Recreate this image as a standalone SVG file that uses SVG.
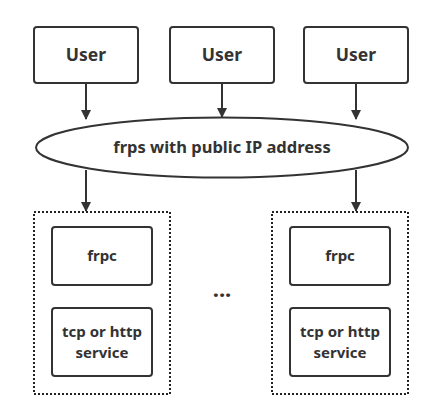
<svg xmlns="http://www.w3.org/2000/svg" width="443" height="415" viewBox="0 0 443 415">
<defs>
<style>
.box{fill:#fff;stroke:#333;stroke-width:2}
.dot{fill:none;stroke:#222;stroke-width:2;stroke-dasharray:2 2}
.t{font-family:"Noto Sans","Open Sans",sans-serif;font-weight:bold;font-size:17.5px;fill:#333;text-anchor:middle}
.s{font-size:15px}
.m{font-size:16.5px}
.c{stroke:#333;stroke-width:2;fill:none}
</style>
<marker id="ah" markerWidth="10" markerHeight="10" refX="9" refY="5" orient="auto" markerUnits="userSpaceOnUse">
<path d="M0,0 L10,5 L0,10 Z" fill="#333"/>
</marker>
</defs>
<rect width="443" height="415" fill="#fff"/>
<g id="connectors">
<line class="c" x1="86" y1="83" x2="86" y2="119" marker-end="url(#ah)"/>
<line class="c" x1="222" y1="83" x2="222" y2="117" marker-end="url(#ah)"/>
<line class="c" x1="356" y1="83" x2="356" y2="119" marker-end="url(#ah)"/>
<line class="c" x1="86" y1="170" x2="86" y2="211" marker-end="url(#ah)"/>
<line class="c" x1="356" y1="170" x2="356" y2="211" marker-end="url(#ah)"/>
</g>
<g id="user1"><rect class="box" x="34" y="27" width="104" height="56" rx="3"/><text class="t" x="86" y="61">User</text></g>
<g id="user2"><rect class="box" x="170" y="27" width="104" height="56" rx="3"/><text class="t" x="222" y="61">User</text></g>
<g id="user3"><rect class="box" x="304" y="27" width="104" height="56" rx="3"/><text class="t" x="356" y="61">User</text></g>
<g id="frps"><ellipse class="box" cx="222" cy="147.5" rx="186" ry="30"/><text class="t m" x="222" y="153">frps with public IP address</text></g>
<g id="group1">
<rect class="dot" x="34" y="212" width="136" height="182"/>
<g id="frpc1"><rect class="box" x="52" y="227" width="100" height="58" rx="3"/><text class="t s" x="102" y="261">frpc</text></g>
<g id="svc1"><rect class="box" x="52" y="308" width="100" height="68" rx="3"/><text class="t s" x="102" y="337">tcp or http</text><text class="t s" x="102" y="358">service</text></g>
</g>
<g id="group2">
<rect class="dot" x="272" y="212" width="136" height="182"/>
<g id="frpc2"><rect class="box" x="290" y="227" width="100" height="58" rx="3"/><text class="t s" x="340" y="261">frpc</text></g>
<g id="svc2"><rect class="box" x="290" y="308" width="100" height="68" rx="3"/><text class="t s" x="340" y="337">tcp or http</text><text class="t s" x="340" y="358">service</text></g>
</g>
<g id="ellipsis"><text class="t" x="222" y="297" style="font-size:22px">...</text></g>
</svg>
